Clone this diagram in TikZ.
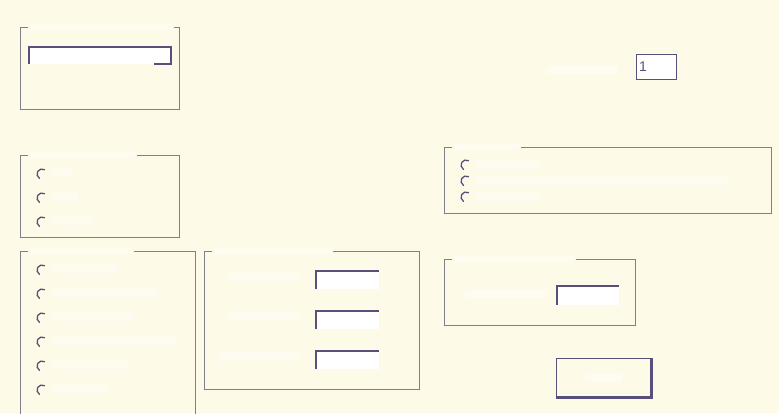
\documentclass[tikz,border=0pt]{standalone}
\usepackage{fontspec}
\setsansfont{Liberation Sans}
\definecolor{dlgback}{RGB}{254,250,232}
\definecolor{framegray}{RGB}{128,128,138}
\definecolor{editdark}{RGB}{88,80,122}
\begin{document}
\begin{tikzpicture}[x=1pt,y=-1pt,
		groupframe/.style={draw=framegray, line width=1pt},
		sunken/.style={draw=editdark, line width=1.4pt},
		radiobtn/.style={draw=editdark, line width=1.3pt, line cap=round},
		whitelabel/.style={fill=white, opacity=0.4}]
	\useasboundingbox (0,0) rectangle (779,413);
	\clip (0,0) rectangle (779,413);
	\fill[dlgback] (0,0) rectangle (779,413);
	
	% group frames, the gap is where the title sits
	\draw[groupframe] (28,27) -- (20,27) -- (20,109) -- (179,109) -- (179,27) -- (174,27);
	\draw[groupframe] (28,155) -- (20,155) -- (20,237) -- (179,237) -- (179,155) -- (137,155);
	\draw[groupframe] (28,251) -- (20,251) -- (20,420) -- (195,420) -- (195,251) -- (134,251);
	\draw[groupframe] (212,251) -- (204,251) -- (204,389) -- (419,389) -- (419,251) -- (333,251);
	\draw[groupframe] (452,147) -- (444,147) -- (444,213) -- (771,213) -- (771,147) -- (521,147);
	\draw[groupframe] (452,259) -- (444,259) -- (444,325) -- (635,325) -- (635,259) -- (576,259);
	
	% titles
	\fill[whitelabel] (30,24) rectangle (172,30);
	\fill[whitelabel] (30,152) rectangle (135,158);
	\fill[whitelabel] (30,248) rectangle (132,254);
	\fill[whitelabel] (214,248) rectangle (331,254);
	\fill[whitelabel] (454,144) rectangle (519,150);
	\fill[whitelabel] (454,256) rectangle (574,262);
	
	% combo box
	\fill[white] (29,47) rectangle (171,64);
	\draw[sunken] (29,64) -- (29,47) -- (171,47) -- (171,64) -- (154,64);
	
	% radio buttons
	\draw[radiobtn] (42,174) ++(-60:5) arc[start angle=-60, end angle=-240, radius=5];
	\draw[radiobtn] (42,198) ++(-60:5) arc[start angle=-60, end angle=-240, radius=5];
	\draw[radiobtn] (42,222) ++(-60:5) arc[start angle=-60, end angle=-240, radius=5];
	\fill[whitelabel] (52,169) rectangle (72,177);
	\fill[whitelabel] (52,193) rectangle (78,201);
	\fill[whitelabel] (52,217) rectangle (93,225);
	
	\draw[radiobtn] (42,270) ++(-60:5) arc[start angle=-60, end angle=-240, radius=5];
	\draw[radiobtn] (42,294) ++(-60:5) arc[start angle=-60, end angle=-240, radius=5];
	\draw[radiobtn] (42,318) ++(-60:5) arc[start angle=-60, end angle=-240, radius=5];
	\draw[radiobtn] (42,342) ++(-60:5) arc[start angle=-60, end angle=-240, radius=5];
	\draw[radiobtn] (42,366) ++(-60:5) arc[start angle=-60, end angle=-240, radius=5];
	\draw[radiobtn] (42,390) ++(-60:5) arc[start angle=-60, end angle=-240, radius=5];
	\fill[whitelabel] (52,265) rectangle (117,273);
	\fill[whitelabel] (52,289) rectangle (157,297);
	\fill[whitelabel] (52,313) rectangle (133,321);
	\fill[whitelabel] (52,337) rectangle (177,345);
	\fill[whitelabel] (52,361) rectangle (127,369);
	\fill[whitelabel] (52,385) rectangle (107,393);
	
	\draw[radiobtn] (466,165) ++(-60:5) arc[start angle=-60, end angle=-240, radius=5];
	\draw[radiobtn] (466,181) ++(-60:5) arc[start angle=-60, end angle=-240, radius=5];
	\draw[radiobtn] (466,197) ++(-60:5) arc[start angle=-60, end angle=-240, radius=5];
	\fill[whitelabel] (477,161) rectangle (540,169);
	\fill[whitelabel] (477,177) rectangle (727,185);
	\fill[whitelabel] (477,193) rectangle (540,201);
	
	% edit fields
	\fill[white] (316,271) rectangle (379,289);
	\fill[white] (316,311) rectangle (379,329);
	\fill[white] (316,351) rectangle (379,369);
	\draw[sunken] (316,289) -- (316,271) -- (379,271);
	\draw[sunken] (316,329) -- (316,311) -- (379,311);
	\draw[sunken] (316,369) -- (316,351) -- (379,351);
	\fill[whitelabel] (227,273) rectangle (300,281);
	\fill[whitelabel] (227,311) rectangle (300,319);
	\fill[whitelabel] (220,351) rectangle (300,359);
	
	\fill[white] (557,286) rectangle (619,305);
	\draw[sunken] (557,305) -- (557,286) -- (619,286);
	\fill[whitelabel] (465,290) rectangle (548,298);
	
	% count field
	\fill[whitelabel] (547,66) rectangle (618,74);
	\fill[white] (636,54) rectangle (676,79);
	\draw[editdark, line width=1pt] (636,54) rectangle (676,79);
	\node[anchor=west, inner sep=0pt, text=editdark, font=\sffamily\fontsize{14}{14}\selectfont] (count) at (639,67) {1};
	
	% push button
	\draw[editdark, line width=1pt] (556,358) rectangle (652,398);
	\draw[editdark, line width=1.5pt] (557,397) -- (651,397) -- (651,359);
	\fill[whitelabel] (585,374) rectangle (622,382);
\end{tikzpicture}
\end{document}
